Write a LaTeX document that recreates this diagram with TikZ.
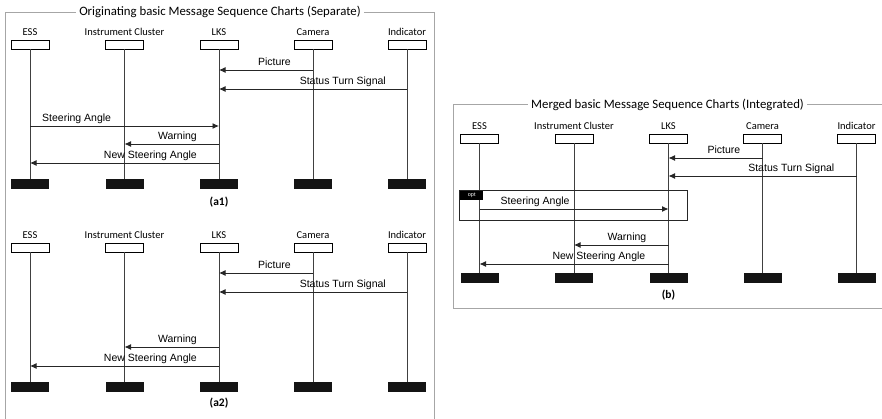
\documentclass[tikz,border=0pt]{standalone}
\usepackage{fontspec}
\setmainfont{Carlito}
\newfontfamily\arialf{Liberation Sans}
\usetikzlibrary{arrows.meta}

\tikzset{
  frame/.style={draw=black!35, line width=0.8pt},
  ptitle/.style={font=\fontsize{12.8}{14}\selectfont, fill=white, inner xsep=3pt, inner ysep=1pt},
  plabel/.style={font=\fontsize{10.5}{12}\selectfont, inner sep=0, anchor=base},
  headbox/.style={draw=black, fill=white, line width=0.8pt, minimum width=38pt, minimum height=8.5pt, inner sep=0, outer sep=0},
  tailbox/.style={fill=black!92, minimum width=38pt, minimum height=10pt, inner sep=0, outer sep=0},
  life/.style={draw=black!75, line width=0.8pt},
  msg/.style={draw=black!85, line width=0.9pt, -{Latex[length=6.5pt,width=6pt]}},
  mlabel/.style={font=\arialf\fontsize{10.5}{12}\selectfont, inner sep=0},
  caption/.style={font=\bfseries\fontsize{11.5}{13}\selectfont, inner sep=0},
  optbox/.style={draw=black!85, line width=0.8pt},
  opttag/.style={fill=black, text=white, font=\arialf\fontsize{5.5}{6}\selectfont, minimum width=23pt, minimum height=9pt, inner sep=0, anchor=north west},
}

% heads, names, lifelines and end bars of one chart; #1 is the name prefix
\newcommand\mscskel[1]{%
  \foreach \nm/\xx/\txt in {ess/30/ESS, ic/124.5/Instrument Cluster, lks/219/LKS, cam/313/Camera, ind/407/Indicator}{
    \node[plabel] (#1\nm n) at (\xx,35) {\txt};
    \node[headbox] (#1\nm) at (\xx,45) {};
    \node[tailbox] (#1\nm z) at (\xx,183.5) {};
    \draw[life] (#1\nm.south) -- (#1\nm z.north);
  }%
}

\begin{document}
\begin{tikzpicture}[x=1pt, y=-1pt]
\useasboundingbox (0,0) rectangle (882,418);

% ---------- left frame: separate charts ----------
\draw[frame] (5,12) rectangle (434,430);
\node[ptitle] (ltitle) at (220,12) {Originating basic Message Sequence Charts (Separate)};

% chart (a1)
\begin{scope}
  \mscskel{a1}
  \coordinate (a1y1) at (0,70);
  \coordinate (a1y2) at (0,89);
  \coordinate (a1y3) at (0,126);
  \coordinate (a1y4) at (0,144);
  \coordinate (a1y5) at (0,163);
  \draw[msg] (a1cam |- a1y1) -- (a1lks |- a1y1);
  \node[mlabel, anchor=base east, xshift=-22pt, yshift=5pt] (a1l1) at (a1cam |- a1y1) {Picture};
  \draw[msg] (a1ind |- a1y2) -- (a1lks |- a1y2);
  \node[mlabel, anchor=base east, xshift=-21pt, yshift=5pt] (a1l2) at (a1ind |- a1y2) {Status Turn Signal};
  \draw[msg] (a1ess |- a1y3) -- (a1lks |- a1y3);
  \node[mlabel, anchor=base west, xshift=12pt, yshift=5pt] (a1l3) at (a1ess |- a1y3) {Steering Angle};
  \draw[msg] (a1lks |- a1y4) -- (a1ic |- a1y4);
  \node[mlabel, anchor=base east, xshift=-22pt, yshift=5pt] (a1l4) at (a1lks |- a1y4) {Warning};
  \draw[msg] (a1lks |- a1y5) -- (a1ess |- a1y5);
  \node[mlabel, anchor=base east, xshift=-22pt, yshift=5pt] (a1l5) at (a1lks |- a1y5) {New Steering Angle};
  \node[caption] (a1cap) at (219,202) {(a1)};
\end{scope}

% chart (a2)
\begin{scope}[shift={(0,203)}]
  \mscskel{a2}
  \coordinate (a2y1) at (0,70);
  \coordinate (a2y2) at (0,89);
  \coordinate (a2y4) at (0,144);
  \coordinate (a2y5) at (0,163);
  \draw[msg] (a2cam |- a2y1) -- (a2lks |- a2y1);
  \node[mlabel, anchor=base east, xshift=-22pt, yshift=5pt] (a2l1) at (a2cam |- a2y1) {Picture};
  \draw[msg] (a2ind |- a2y2) -- (a2lks |- a2y2);
  \node[mlabel, anchor=base east, xshift=-21pt, yshift=5pt] (a2l2) at (a2ind |- a2y2) {Status Turn Signal};
  \draw[msg] (a2lks |- a2y4) -- (a2ic |- a2y4);
  \node[mlabel, anchor=base east, xshift=-22pt, yshift=5pt] (a2l4) at (a2lks |- a2y4) {Warning};
  \draw[msg] (a2lks |- a2y5) -- (a2ess |- a2y5);
  \node[mlabel, anchor=base east, xshift=-22pt, yshift=5pt] (a2l5) at (a2lks |- a2y5) {New Steering Angle};
  \node[caption] (a2cap) at (219,200) {(a2)};
\end{scope}

% ---------- right frame: merged chart ----------
\draw[frame] (453,104) rectangle (895,308);
\node[ptitle] (rtitle) at (667.5,105) {Merged basic Message Sequence Charts (Integrated)};

\begin{scope}[shift={(449.5,94)}]
  \mscskel{b}
  \coordinate (by1) at (0,64);
  \coordinate (by2) at (0,82);
  \coordinate (by3) at (0,115);
  \coordinate (by4) at (0,151);
  \coordinate (by5) at (0,170);
  \draw[msg] (bcam |- by1) -- (blks |- by1);
  \node[mlabel, anchor=base east, xshift=-22pt, yshift=5pt] (bl1) at (bcam |- by1) {Picture};
  \draw[msg] (bind |- by2) -- (blks |- by2);
  \node[mlabel, anchor=base east, xshift=-22pt, yshift=5pt] (bl2) at (bind |- by2) {Status Turn Signal};
  % optional fragment
  \draw[optbox] (9.5,96) rectangle (237.5,126);
  \node[opttag] (bopt) at (10.5,97) {opt};
  \draw[msg] (bess |- by3) -- (blks |- by3);
  \node[mlabel, anchor=base west, xshift=21pt, yshift=5pt] (bl3) at (bess |- by3) {Steering Angle};
  \draw[msg] (blks |- by4) -- (bic |- by4);
  \node[mlabel, anchor=base east, xshift=-22pt, yshift=5pt] (bl4) at (blks |- by4) {Warning};
  \draw[msg] (blks |- by5) -- (bess |- by5);
  \node[mlabel, anchor=base east, xshift=-23pt, yshift=5pt] (bl5) at (blks |- by5) {New Steering Angle};
  \node[caption] (bcap) at (219,201) {(b)};
\end{scope}
\end{tikzpicture}
\end{document}
